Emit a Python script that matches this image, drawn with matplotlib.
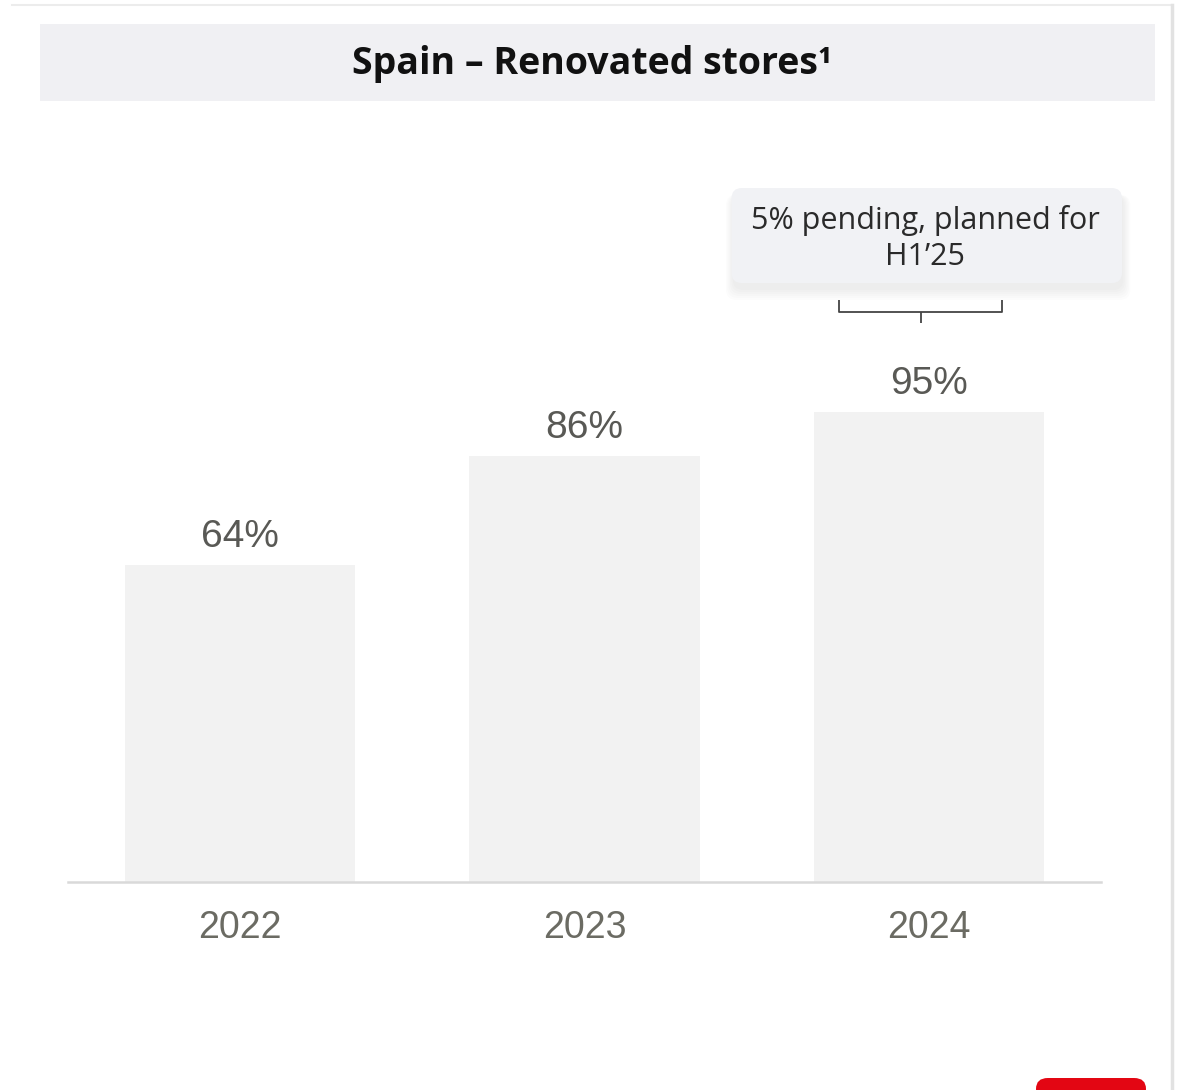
import matplotlib.pyplot as plt
from matplotlib.patches import FancyBboxPatch, Rectangle
from matplotlib.lines import Line2D

years = ['2022', '2023', '2024']
renovated = [64, 86, 95]
pending_note = '5% pending, planned for\nH1\u201925'

W, H = 1186, 1090
fig = plt.figure(figsize=(W / 100, H / 100), dpi=100)
fig.patch.set_facecolor('white')


def fx(px):
    return px / W


def fy(py):
    return 1 - py / H


# card outline and title band
fig.add_artist(Line2D([fx(12), fx(1172)], [fy(5), fy(5)], color='#ececec', lw=1.5))
fig.add_artist(Line2D([fx(1172), fx(1172)], [fy(5), fy(1090)], color='#e2e2e2', lw=2.5))
fig.add_artist(Rectangle((fx(40), fy(101)), fx(1115), 77 / H, facecolor='#f0f0f3',
                         edgecolor='none'))
fig.text(fx(592), fy(64), 'Spain \u2013 Renovated stores\u00b9', ha='center', va='center',
         fontsize=27, fontweight='bold', family='Open Sans', color='#111111')

# red tab at bottom right
fig.add_artist(FancyBboxPatch((fx(1036), fy(1100)), fx(110), 22 / H,
                              boxstyle='round,pad=0,rounding_size=0.01',
                              facecolor='#e30613', edgecolor='none'))

ax = fig.add_axes([fx(68), fy(882), fx(1101 - 68), (882 - 139.5) / H])
ax.set_facecolor('none')
x = range(len(years))
vals = [v / 100 for v in renovated]
ax.bar(x, vals, width=0.668, color='#f2f2f2', zorder=1)
ax.set_xlim(-0.5, 2.5)
ax.set_ylim(0, 1.5)
for s in ['top', 'right', 'left']:
    ax.spines[s].set_visible(False)
ax.spines['bottom'].set_color('#d9d9d9')
ax.spines['bottom'].set_linewidth(1.8)
ax.set_yticks([])
ax.set_xticks(list(x))
ax.set_xticklabels(years, fontsize=27, family='Liberation Sans', color='#6b6b63')
ax.tick_params(axis='x', length=0, pad=20)

for i, v in enumerate(vals):
    ax.annotate(f'{renovated[i]}%', (i, v), xytext=(0, 13), textcoords='offset points',
                ha='center', va='baseline', fontsize=28, family='Liberation Sans',
                color='#595955')

# callout box with soft shadow above the 2024 bar
last = len(years) - 1
bx0, bx1 = last - 0.573, last + 0.561
by0, by1 = 1.21, 1.402
asp = 344 / 495
for k in range(6):
    g = 0.004 * k
    ax.add_patch(FancyBboxPatch((bx0 + 0.004 - g, by0 - 0.014 - g),
                                bx1 - bx0 + 2 * g, by1 - by0 + g,
                                boxstyle='round,pad=0,rounding_size=0.03',
                                mutation_aspect=asp, facecolor='#808080', alpha=0.025,
                                edgecolor='none', clip_on=False, zorder=2))
ax.add_patch(FancyBboxPatch((bx0, by0), bx1 - bx0, by1 - by0,
                            boxstyle='round,pad=0,rounding_size=0.03',
                            mutation_aspect=asp, facecolor='#f1f2f5', edgecolor='none',
                            clip_on=False, zorder=3))
ax.text((bx0 + bx1) / 2 - 0.005, (by0 + by1) / 2 - 0.006, pending_note, ha='center',
        va='center', fontsize=22, family='Open Sans', color='#2a2a2a', linespacing=1.22,
        zorder=4, clip_on=False)

# bracket
bl, br, bm = last - 0.262, last + 0.212, last - 0.023
yt, yh, yb = 1.176, 1.152, 1.129
kw = dict(color='#444444', lw=1.3, clip_on=False, zorder=4, solid_capstyle='butt')
ax.plot([bl, bl, br, br], [yt, yh, yh, yt], **kw)
ax.plot([bm, bm], [yh, yb], **kw)

fig.savefig('out.png', dpi=100, facecolor='white')
